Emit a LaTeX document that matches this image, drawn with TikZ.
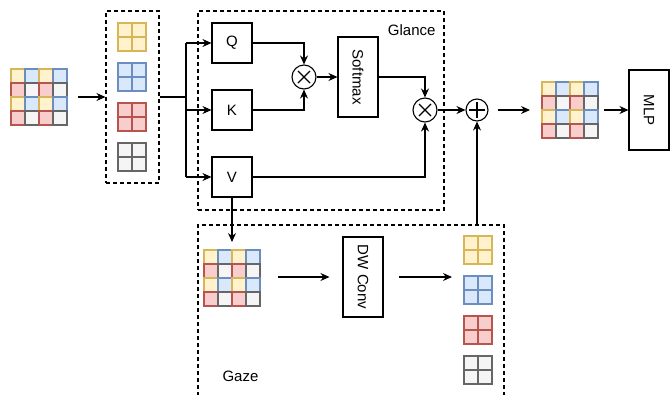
\documentclass[tikz,border=0pt]{standalone}
\usepackage{fontspec}
\setmainfont{Liberation Sans}
\usetikzlibrary{arrows.meta,calc}
\definecolor{yfill}{HTML}{FFF2CC}\definecolor{ydraw}{HTML}{D6B656}
\definecolor{bfill}{HTML}{DAE8FC}\definecolor{bdraw}{HTML}{6C8EBF}
\definecolor{rfill}{HTML}{F8CECC}\definecolor{rdraw}{HTML}{B85450}
\definecolor{gfill}{HTML}{F5F5F5}\definecolor{gdraw}{HTML}{666666}
\tikzset{
  cellY/.style={fill=yfill,draw=ydraw},
  cellB/.style={fill=bfill,draw=bdraw},
  cellR/.style={fill=rfill,draw=rdraw},
  cellG/.style={fill=gfill,draw=gdraw},
  cell/.style={line width=1.3pt},
  opbox/.style={draw,line width=1.1pt,minimum width=40pt,minimum height=40pt,inner sep=0pt,font=\fontsize{15}{17}\selectfont},
  tallbox/.style={draw,line width=1.1pt,minimum width=40pt,minimum height=80pt,inner sep=0pt},
  vtext/.style={rotate=-90,font=\fontsize{15}{17}\selectfont},
  group/.style={draw,dash pattern=on 4pt off 3pt,line width=1.1pt,inner sep=0pt},
  opcirc/.style={draw,circle,line width=1.1pt,minimum size=24pt,inner sep=0pt},
  holder/.style={inner sep=0pt,outer sep=0pt},
  conn/.style={line width=1.1pt},
  arr/.style={conn,-{Stealth[length=9pt,width=8pt]}},
  lbl/.style={font=\fontsize{15}{17}\selectfont}
}
% 4x4 token grid with top-left corner (#2,#3), named #1
\newcommand{\tokengrid}[3]{%
  \node[holder,minimum width=56pt,minimum height=56pt,anchor=north west] (#1) at (#2,#3) {};
  \foreach \r in {0,1,2,3}{\foreach \c in {0,1,2,3}{%
    \pgfmathtruncatemacro{\re}{mod(\r,2)}%
    \pgfmathtruncatemacro{\ce}{mod(\c,2)}%
    \ifnum\re=0 \ifnum\ce=0 \def\sty{cellY}\else\def\sty{cellB}\fi
    \else \ifnum\ce=0 \def\sty{cellR}\else\def\sty{cellG}\fi\fi
    \draw[\sty,cell] (#2+\c*14,#3+\r*14) rectangle ++(14,14);
  }}%
}
% 2x2 grid with top-left corner (#2,#3) in style #1
\newcommand{\smallgrid}[3]{%
  \foreach \r in {0,1}{\foreach \c in {0,1}{%
    \draw[#1,cell] (#2+\c*14,#3+\r*14) rectangle ++(14,14);
  }}%
}
\begin{document}
\begin{tikzpicture}[x=1pt,y=-1pt]
\useasboundingbox (0,0) rectangle (670,394);

% input tokens
\tokengrid{gin}{11}{69}

% split into groups
\node[group,minimum width=53pt,minimum height=172pt] (split) at (132.5,97) {};
\smallgrid{cellY}{118}{23}
\smallgrid{cellB}{118}{63}
\smallgrid{cellR}{118}{103}
\smallgrid{cellG}{118}{143}

% Glance branch
\node[group,minimum width=246pt,minimum height=199pt] (glance) at (321,110.5) {};
\node[lbl,anchor=east] (glbl) at (439,30) {Glance};
\node[opbox] (Q) at (232,43) {Q};
\node[opbox] (K) at (232,110) {K};
\node[opbox] (V) at (232,177) {V};
\node[opcirc] (m1) at (304,77) {};
\node[tallbox] (soft) at (358,77) {};
\node[vtext] at (soft.center) {Softmax};
\node[opcirc] (m2) at (425,110) {};
\node[opcirc,minimum size=22pt] (plus) at (477,110) {};
\foreach \m in {m1,m2}{
  \draw[conn] ($(\m)+(-6,-6)$) -- ($(\m)+(6,6)$);
  \draw[conn] ($(\m)+(-6,6)$) -- ($(\m)+(6,-6)$);
}
\draw[conn] ($(plus)+(-8,0)$) -- ($(plus)+(8,0)$);
\draw[conn] ($(plus)+(0,-8)$) -- ($(plus)+(0,8)$);

% output
\tokengrid{gout}{542}{82}
\node[tallbox] (mlp) at (649,110) {};
\node[vtext] at (mlp.center) {MLP};

% Gaze branch
\draw[group] (198,396) -- (198,225) -- (504,225) -- (504,396);
\coordinate (gtop) at (477,225);
\node[lbl,anchor=west] (gzlbl) at (219,376) {Gaze};
\tokengrid{gz}{204}{250}
\node[tallbox] (dw) at (363,277) {};
\node[vtext] at (dw.center) {DW Conv};
\node[holder,minimum width=28pt,minimum height=148pt] (gstack) at (478,310) {};
\smallgrid{cellY}{464}{236}
\smallgrid{cellB}{464}{276}
\smallgrid{cellR}{464}{316}
\smallgrid{cellG}{464}{356}

% connectors
\coordinate (fork) at (186,97);
\draw[arr,shorten <=11pt] (gin.east) -- (split.west);
\draw[conn] (split.east) -- (fork);
\draw[conn] (fork |- Q.west) -- (fork |- V.west);
\draw[arr] (fork |- Q.west) -- (Q.west);
\draw[arr] (fork |- K.west) -- (K.west);
\draw[arr] (fork |- V.west) -- (V.west);
\draw[arr] (Q.east) -| (m1.north);
\draw[arr] (K.east) -| (m1.south);
\draw[arr] (m1.east) -- (soft.west);
\draw[arr] (soft.east |- m1.east) -| (m2.north);
\draw[arr] (V.east) -| (m2.south);
\draw[arr] (m2.east) -- (plus.west);
\draw[arr,shorten <=9pt,shorten >=12pt] (plus.east) -- (gout.west);
\draw[arr,shorten <=6pt] (gout.east) -- (mlp.west);
\draw[arr,shorten >=8pt] (V.south) -- (gz.north);
\draw[arr,shorten <=18pt,shorten >=13pt] (gz.east |- dw.west) -- (dw.west);
\draw[arr,shorten <=15pt,shorten >=12pt] (dw.east) -- (gstack.west |- dw.east);
\draw[arr] (gtop) -- (plus.south);
\end{tikzpicture}
\end{document}
